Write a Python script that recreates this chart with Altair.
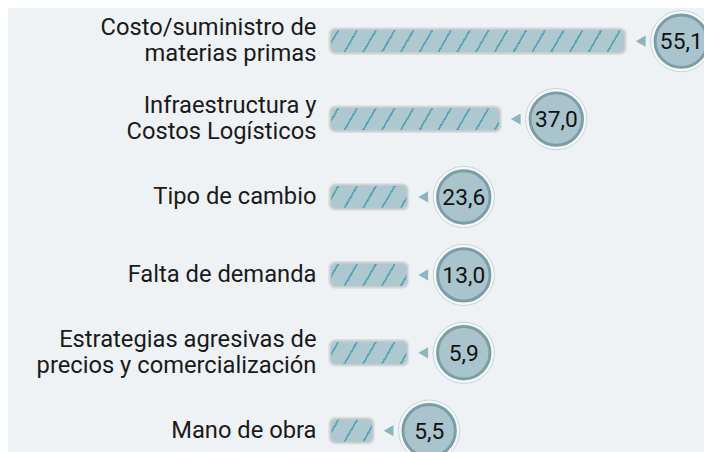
import altair as alt
import pandas as pd
import numpy as np

categories = [
    "Costo/suministro de\nmaterias primas",
    "Infraestructura y\nCostos Logísticos",
    "Tipo de cambio",
    "Falta de demanda",
    "Estrategias agresivas de\nprecios y comercialización",
    "Mano de obra",
]
values = [55.1, 37.0, 23.6, 13.0, 5.9, 5.5]
value_labels = ["55,1", "37,0", "23,6", "13,0", "5,9", "5,5"]

# x scale knots (piecewise, as the reference's bar lengths are not proportional)
X_DOMAIN = [0, 5.5, 5.9, 23.6, 55.1]
X_RANGE = [327, 368, 403, 403, 623]

BG = "#eef2f4"
BAR_BASE = "#adc8cf"
BAR_LINE = "#5aa5b6"
BAR_H = 22
FONT = "Roboto"

df = pd.DataFrame({"cat": categories, "value": values, "label": value_labels, "zero": 0})
df["lines"] = df["cat"].str.count("\n") + 1

xs = alt.Scale(domain=X_DOMAIN, range=X_RANGE, nice=False, zero=False)
ys = alt.Scale(domain=categories, range=[31, 425], type="point", padding=0)
X = alt.X("value:Q", scale=xs, axis=None)
X0 = alt.X("zero:Q", scale=xs, axis=None)
Y = alt.Y("cat:N", scale=ys, axis=None, sort=categories)


def hatch(W, H=BAR_H, spacing=19, lw=2.2, slope=0.58, start=6):
    gy = slope * H / W
    k = (1 + gy) / (1 + gy * gy)
    span = W * (1 + gy)
    stops = [alt.GradientStop(offset=0, color=BAR_BASE)]
    pos = start
    while pos + lw < span - 1:
        a = pos / span
        b = (pos + lw) / span
        stops += [
            alt.GradientStop(offset=a, color=BAR_BASE),
            alt.GradientStop(offset=a, color=BAR_LINE),
            alt.GradientStop(offset=b, color=BAR_LINE),
            alt.GradientStop(offset=b, color=BAR_BASE),
        ]
        pos += spacing
    stops.append(alt.GradientStop(offset=1, color=BAR_BASE))
    return alt.LinearGradient(gradient="linear", stops=stops, x1=0, y1=0, x2=k, y2=k * gy)


base = alt.Chart(df)

halo_outer = base.mark_bar(
    height=BAR_H + 6, color="#d6dadc", cornerRadius=7, xOffset=-3, x2Offset=3, opacity=0.8
).encode(x=X0, x2="value:Q", y=Y)

halo = base.mark_bar(
    height=BAR_H + 3, color="#bfc5c7", cornerRadius=6, xOffset=-1.5, x2Offset=1.5, opacity=0.8
).encode(x=X0, x2="value:Q", y=Y)

# bars grouped by pixel width so that each gets its own hatch gradient
widths = {}
for v in values:
    w = round(float(np.interp(v, X_DOMAIN, X_RANGE)) - X_RANGE[0], 1)
    widths.setdefault(w, []).append(v)

bar_layers = []
for w, vs in widths.items():
    bar_layers.append(
        base.transform_filter(alt.FieldOneOfPredicate(field="value", oneOf=vs))
        .mark_bar(height=BAR_H, cornerRadius=5, fill=hatch(w))
        .encode(x=X0, x2="value:Q", y=Y)
    )

tri = base.mark_point(
    shape="triangle-left", filled=True, size=130, color="#8fb4be", opacity=1, xOffset=17
).encode(x=X, y=Y)

ring = base.mark_point(
    shape="circle", filled=True, size=62 * 62, fill="#f5f8f9", stroke="#c6d4d8",
    strokeWidth=1, opacity=1, xOffset=58
).encode(x=X, y=Y)

disc = base.mark_point(
    shape="circle", filled=True, size=53 * 53, fill="#a9c4cc", stroke="#7d9da6",
    strokeWidth=3, opacity=1, xOffset=58
).encode(x=X, y=Y)

vals = base.mark_text(
    font=FONT, fontSize=23, color="#111111", align="center", baseline="middle", xOffset=58, dy=1
).encode(x=X, y=Y, text="label:N")

cat_style = dict(font=FONT, fontSize=24, color="#1a1a1a", align="right", baseline="middle",
                 lineBreak="\n", lineHeight=26, xOffset=-15)
cats1 = base.transform_filter("datum.lines == 1").mark_text(**cat_style).encode(
    x=X0, y=Y, text="cat:N")
cats2 = base.transform_filter("datum.lines == 2").mark_text(dy=-13, **cat_style).encode(
    x=X0, y=Y, text="cat:N")

chart = alt.layer(halo_outer, halo, *bar_layers, tri, ring, disc, vals, cats1, cats2).properties(
    width=704, height=444, autosize=alt.AutoSizeParams(type="none"), padding=0, background=BG
).configure_view(stroke=None)

chart.save("out.html", embed_options={"renderer": "svg", "actions": False})
